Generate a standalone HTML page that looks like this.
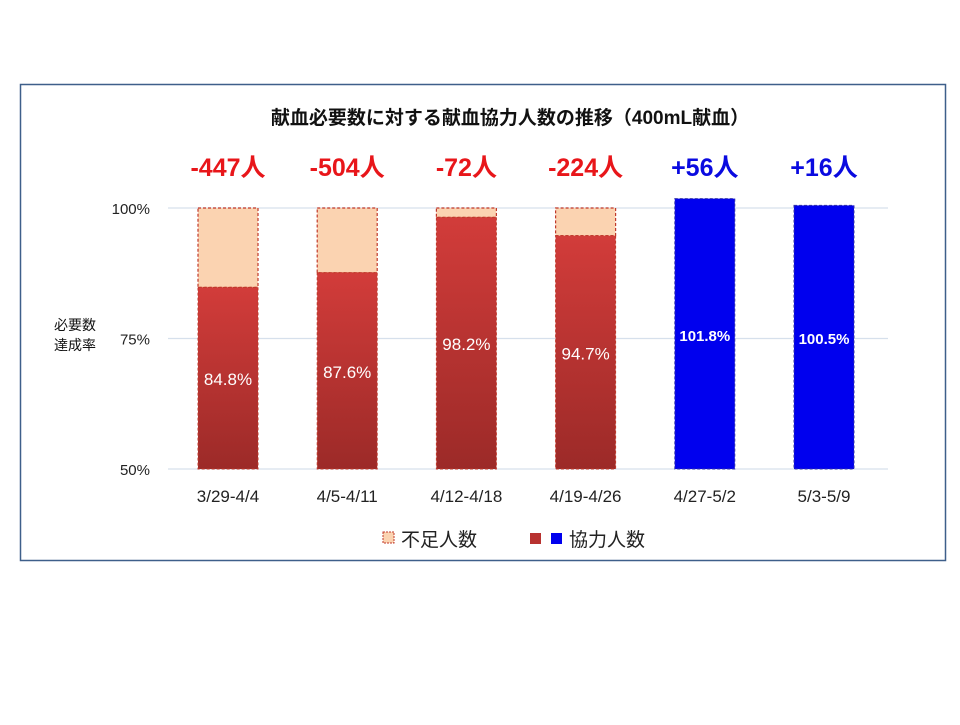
<!DOCTYPE html>
<html><head><meta charset="utf-8"><style>
body{margin:0;background:#fff;width:960px;height:720px;overflow:hidden}
text{font-family:"Liberation Sans","Noto Sans CJK JP",sans-serif}
</style></head><body>
<svg id="chart" width="960" height="720" xmlns="http://www.w3.org/2000/svg">
<defs>
<linearGradient id="rg" x1="0" y1="0" x2="0" y2="1"><stop offset="0" stop-color="#d23c3a"/><stop offset="1" stop-color="#9c2a28"/></linearGradient>
</defs>
<rect x="20.5" y="84.5" width="925" height="476" fill="#fff" stroke="#3e5f8a" stroke-width="1.5"/>
<text x="510" y="124" font-size="19" font-weight="bold" text-anchor="middle" fill="#111">献血必要数に対する献血協力人数の推移（400mL献血）</text>
<text x="75" y="330" font-size="14" text-anchor="middle" fill="#111"><tspan x="75" dy="0">必要数</tspan><tspan x="75" dy="20">達成率</tspan></text>
<g id="grid"></g><g id="bars"></g><g id="labels"></g>
<g>
<rect x="383" y="532" width="11" height="11" fill="#fbd3b1" stroke="#c0392b" stroke-dasharray="2,1"/>
<text x="401" y="546" font-size="19" fill="#222">不足人数</text>
<rect x="530" y="533" width="11" height="11" fill="#b83230"/>
<rect x="551" y="533" width="11" height="11" fill="#0000ee"/>
<text x="569" y="546" font-size="19" fill="#222">協力人数</text>
</g>
</svg>
<script>
const categories=["3/29-4/4","4/5-4/11","4/12-4/18","4/19-4/26","4/27-5/2","5/3-5/9"];
const rates=[84.8,87.6,98.2,94.7,101.8,100.5];
const diffs=["-447人","-504人","-72人","-224人","+56人","+16人"];
const yTicks=[50,75,100];
const yTickLabels=["50%","75%","100%"];
const NS="http://www.w3.org/2000/svg";
const y=v=>469-(v-50)*5.22;
const x=i=>228+i*119.2;
const bw=60;
function mk(tag,attrs,parent,txt){const e=document.createElementNS(NS,tag);for(const k in attrs)e.setAttribute(k,attrs[k]);if(txt!==undefined)e.textContent=txt;document.getElementById(parent).appendChild(e);return e;}
yTicks.forEach((t,i)=>{
 const l=mk('line',{x1:168,x2:888,y1:y(t),y2:y(t),stroke:'#d6e0ec','stroke-width':1.2},'grid');
 
 
 const tx=mk('text',{x:150,y:y(t)+6,'font-size':15,'text-anchor':'end',fill:'#222'},'grid',yTickLabels[i]);
 
 
});
categories.forEach((c,i)=>{
 const v=rates[i],cx=x(i),ok=v>=100;
 if(!ok){
  const s=mk('rect',{x:cx-bw/2,y:y(100),width:bw,height:y(v)-y(100),fill:'#fbd3b1',stroke:'#c0392b','stroke-width':1.2,'stroke-dasharray':'3,2'},'bars');
  
  
 }
 const b=mk('rect',{x:cx-bw/2,y:y(v),width:bw,height:y(50)-y(v),fill:ok?'#0000ee':'url(#rg)',stroke:ok?'#3333aa':'#c0392b','stroke-width':1,'stroke-dasharray':'3,2'},'bars');
 
 
 const vl=mk('text',{x:cx,y:y((v+50)/2)+7,'font-size':ok?15:17,'font-weight':ok?'bold':'normal','text-anchor':'middle',fill:'#fff'},'labels',v.toFixed(1)+'%');
 
 
 const dl=mk('text',{x:cx,y:176,'font-size':25,'font-weight':'bold','text-anchor':'middle',fill:ok?'#0a0ae0':'#e8161a'},'labels',diffs[i]);
 
 
 const cl=mk('text',{x:cx,y:502,'font-size':17,'text-anchor':'middle',fill:'#222'},'labels',c);
 
 
});
</script>
</body></html>
